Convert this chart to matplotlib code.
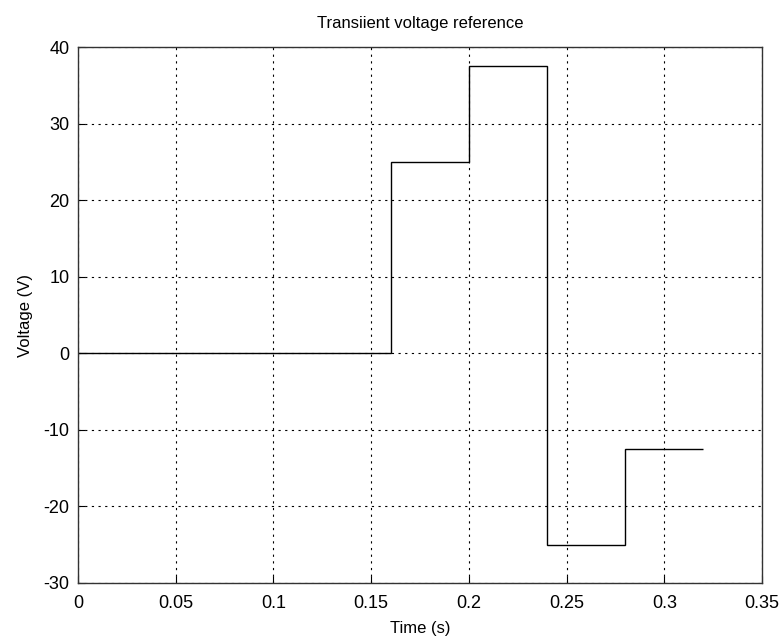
import matplotlib
matplotlib.use("Agg")
import matplotlib.pyplot as plt

plt.rcParams['font.family'] = ['Liberation Sans', 'DejaVu Sans']
plt.rcParams['axes.unicode_minus'] = False

# step reference: switching instants (s) and voltage levels (V)
t_edges = [0, 0.16, 0.20, 0.24, 0.28, 0.32]
v_levels = [0, 25, 37.5, -25, -12.5]

x_ticks = [0, 0.05, 0.1, 0.15, 0.2, 0.25, 0.3, 0.35]
x_labels = ['0', '0.05', '0.1', '0.15', '0.2', '0.25', '0.3', '0.35']
y_ticks = [-30, -20, -10, 0, 10, 20, 30, 40]

fig = plt.figure(figsize=(7.84, 6.39), dpi=100)
ax = fig.add_axes([0.0995, 0.088, 0.8725, 0.838])

ax.stairs(v_levels, t_edges, color='black', linewidth=1.0, baseline=None)

ax.set_xlim(0, 0.35)
ax.set_ylim(-30, 40)
ax.set_xticks(x_ticks)
ax.set_xticklabels(x_labels)
ax.set_yticks(y_ticks)
ax.tick_params(direction='in', length=5, labelsize=13, color='black')
ax.tick_params(axis='x', pad=9)
ax.tick_params(axis='y', pad=6)
ax.grid(True, color='black', linestyle=(0, (2, 4)), linewidth=0.8)

for s in ax.spines.values():
    s.set_linewidth(1.0)
    s.set_color('#333333')

ax.set_title("Transiient voltage reference", fontsize=12, pad=14)
ax.set_xlabel("Time (s)", fontsize=12, labelpad=6)
ax.set_ylabel("Voltage (V)", fontsize=12, labelpad=8)

plt.savefig('out.png', dpi=100)
